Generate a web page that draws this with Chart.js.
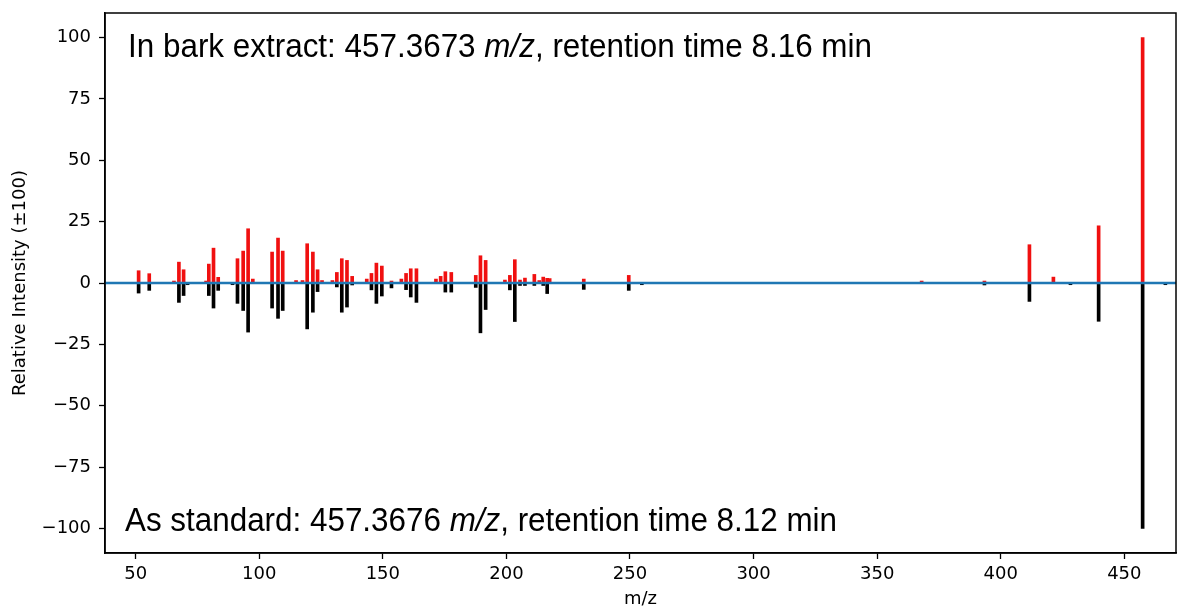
<!DOCTYPE html>
<html lang="en">
<head>
<meta charset="UTF-8">
<title>Mirror spectrum 457.367 m/z</title>
<script src="https://cdn.jsdelivr.net/npm/chart.js"></script>
<style>
    body { margin: 0; background: #fff; }
    #wrap { width: 1182px; height: 609px; }
</style>
</head>
<body>
<div id="wrap"><canvas id="spec" width="1182" height="609"></canvas></div>
<script>
// m/z of each peak
const mz = [51.2, 55.5, 65.5, 67.5, 69.4, 71.0, 78.5, 79.6, 81.5, 83.4, 89.2, 91.2, 93.5, 95.5, 97.4,
    105.2, 107.6, 109.5, 114.9, 117.5, 119.4, 121.7, 123.6, 125.4, 129.6, 131.4, 133.4, 135.5, 137.6,
    143.5, 145.4, 147.4, 149.6, 153.5, 157.5, 159.4, 161.3, 163.6, 171.5, 173.4, 175.3, 177.7,
    187.6, 189.5, 191.6, 199.4, 201.4, 203.4, 205.5, 207.5, 211.3, 213.3, 214.9, 216.5, 217.5,
    231.3, 249.5, 254.8, 368.0, 393.4, 411.6, 421.3, 428.2, 439.6, 457.4, 466.6];
// relative intensity in bark extract (red, upward)
const barkIntensity = [5.0, 3.8, 0.8, 8.5, 5.4, 0, 0.8, 7.7, 14.2, 2.3, 0, 9.9, 13.0, 22.1, 1.6,
    12.6, 18.3, 13.0, 1.0, 1.0, 16.0, 12.6, 5.4, 1.0, 1.0, 4.3, 9.9, 9.2, 2.7,
    1.6, 3.9, 8.1, 6.9, 0.8, 1.6, 3.9, 5.8, 5.8, 1.6, 2.7, 4.6, 4.3,
    3.1, 11.1, 9.2, 1.2, 3.1, 9.5, 1.2, 2.0, 3.5, 1.0, 2.4, 1.9, 1.8,
    1.6, 3.1, 0, 0.8, 0.8, 15.6, 2.4, 0, 23.3, 100, 0];
// relative intensity of the standard (black, drawn downward)
const stdIntensity = [4.1, 3.0, 0, 7.9, 5.1, 0.7, 0, 5.1, 10.2, 3.0, 0.7, 8.3, 11.2, 20.0, 0,
    10.2, 14.4, 11.2, 0, 0, 18.7, 11.9, 3.5, 0, 0, 1.6, 11.9, 9.8, 0.8,
    0, 2.8, 8.3, 5.3, 2.0, 0, 2.7, 5.7, 7.9, 0, 0, 3.7, 3.7,
    1.8, 20.3, 10.8, 0, 2.8, 15.7, 1.0, 1.0, 1.0, 0, 1.0, 4.3, 0,
    2.6, 3.0, 0.7, 0, 0.8, 7.5, 0, 0.7, 15.6, 100, 0.7];

const xRange = [37.6, 470.9];
const yRange = [-110, 110];
const xTicks = [50, 100, 150, 200, 250, 300, 350, 400, 450];
const yTicks = [-100, -75, -50, -25, 0, 25, 50, 75, 100];

const topLabel = ['In bark extract: 457.3673 ', 'm/z', ', retention time 8.16 min'];
const bottomLabel = ['As standard: 457.3676 ', 'm/z', ', retention time 8.12 min'];

// box around plot + the two annotations (slightly condensed Arial look)
const annotate = {
    id: 'annotate',
    afterDraw(chart) {
        const ctx = chart.ctx;
        const a = chart.chartArea;
        ctx.save();
        ctx.strokeStyle = '#000';
        ctx.lineWidth = 1.5;
        ctx.strokeRect(a.left, a.top, a.right - a.left, a.bottom - a.top);

        function drawLine(parts, x, y, width) {
            const fonts = ['34px "Liberation Sans"', 'italic 34px "Liberation Sans"', '34px "Liberation Sans"'];
            let total = 0;
            parts.forEach((p, i) => { ctx.font = fonts[i]; total += ctx.measureText(p).width; });
            const sx = width / total;
            ctx.save();
            ctx.translate(x, y);
            ctx.scale(sx, 1);
            ctx.fillStyle = '#000';
            ctx.textBaseline = 'alphabetic';
            let cx = 0;
            parts.forEach((p, i) => {
                ctx.font = fonts[i];
                ctx.fillText(p, cx, 0);
                cx += ctx.measureText(p).width;
            });
            ctx.restore();
        }
        drawLine(topLabel, 128, 57, 744);
        drawLine(bottomLabel, 125, 531, 712);
        ctx.restore();
    }
};

const tickFont = { family: 'DejaVu Sans', size: 18 };
const minus = v => (v < 0 ? '\u2212' + Math.abs(v) : String(v));

new Chart(document.getElementById('spec'), {
    type: 'bar',
    data: {
        datasets: [
            {
                type: 'line',
                data: xRange.map(x => ({ x: x, y: 0 })),
                borderColor: '#1f77b4',
                borderWidth: 2.5,
                pointRadius: 0,
                order: 0
            },
            {
                label: 'bark extract',
                data: mz.map((x, i) => ({ x: x, y: barkIntensity[i] })),
                backgroundColor: '#f01010',
                barThickness: 3,
                grouped: false,
                order: 1
            },
            {
                label: 'standard',
                data: mz.map((x, i) => ({ x: x, y: -stdIntensity[i] })),
                backgroundColor: '#000000',
                barThickness: 3,
                grouped: false,
                order: 2
            }
        ]
    },
    options: {
        responsive: false,
        animation: false,
        devicePixelRatio: 1,
        layout: { padding: { top: 13, right: 6, left: 0, bottom: 0 } },
        plugins: { legend: { display: false }, tooltip: { enabled: false } },
        scales: {
            x: {
                type: 'linear',
                min: xRange[0],
                max: xRange[1],
                offset: false,
                afterBuildTicks: s => { s.ticks = xTicks.map(v => ({ value: v })); },
                afterFit: s => { s.height = 56; s.paddingLeft = 0; s.paddingRight = 0; },
                grid: { offset: false, drawOnChartArea: false, tickLength: 6, tickColor: '#000', tickWidth: 1.3 },
                border: { color: '#000', width: 1.5 },
                ticks: { color: '#000', font: tickFont, padding: 5, maxRotation: 0 },
                title: { display: true, text: 'm/z', color: '#000', font: tickFont, padding: { top: 0, bottom: -1 } }
            },
            y: {
                min: yRange[0],
                max: yRange[1],
                afterBuildTicks: s => { s.ticks = yTicks.map(v => ({ value: v })); },
                afterFit: s => { s.width = 105; s.paddingTop = 0; s.paddingBottom = 0; },
                grid: { drawOnChartArea: false, tickLength: 6, tickColor: '#000', tickWidth: 1.3 },
                border: { color: '#000', width: 1.5 },
                ticks: { color: '#000', font: tickFont, padding: 8, callback: minus },
                title: { display: true, text: 'Relative Intensity (\u00b1100)', color: '#000', font: tickFont, padding: { top: 10, bottom: 0 } }
            }
        }
    },
    plugins: [annotate]
});
</script>
</body>
</html>
